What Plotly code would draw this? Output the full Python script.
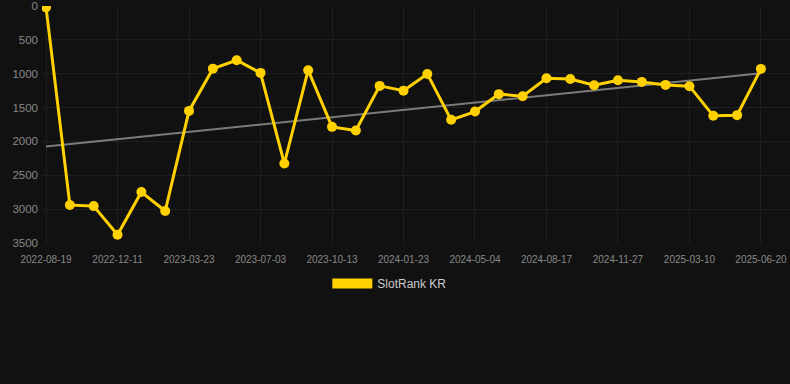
import numpy as np
import plotly.graph_objects as go

dates = [
    "2022-08-19", "2022-09-26", "2022-11-03", "2022-12-11", "2023-01-14", "2023-02-17",
    "2023-03-23", "2023-04-26", "2023-05-30", "2023-07-03", "2023-08-06", "2023-09-09",
    "2023-10-13", "2023-11-16", "2023-12-20", "2024-01-23", "2024-02-26", "2024-03-31",
    "2024-05-04", "2024-06-08", "2024-07-13", "2024-08-17", "2024-09-20", "2024-10-24",
    "2024-11-27", "2024-12-31", "2025-02-04", "2025-03-10", "2025-04-13", "2025-05-17",
    "2025-06-20",
]
ranks = [
    20, 2940, 2955, 3378, 2748, 3028, 1549, 925, 801, 988, 2326, 948, 1785, 1839, 1180,
    1250, 1003, 1681, 1559, 1302, 1332, 1066, 1077, 1170, 1096, 1121, 1165, 1184, 1622,
    1612, 929,
]
tick_labels = dates[::3]
y_ticks = [0, 500, 1000, 1500, 2000, 2500, 3000, 3500]
series_name = "SlotRank KR"

idx = np.arange(len(ranks))
slope, intercept = np.polyfit(idx, ranks, 1)
trend = slope * idx + intercept

gold = "#FFD100"
fig = go.Figure()
fig.add_trace(go.Scatter(
    x=dates, y=trend, mode="lines",
    line=dict(color="rgba(150,150,150,0.8)", width=2),
    showlegend=False, hoverinfo="skip",
))
fig.add_trace(go.Scatter(
    x=dates, y=ranks, mode="lines+markers",
    line=dict(color=gold, width=3),
    marker=dict(color=gold, size=10),
    showlegend=False, name=series_name,
))
fig.add_trace(go.Scatter(
    x=[None], y=[None], mode="lines",
    line=dict(color=gold, width=10),
    name=series_name, showlegend=True,
))

fig.update_layout(
    width=790, height=384,
    paper_bgcolor="#111111", plot_bgcolor="#111111",
    margin=dict(l=42, r=0, t=6, b=141),
    font=dict(family="Liberation Sans, Arial, sans-serif", color="#8a8a8a"),
    legend=dict(
        orientation="h", x=0.465, xanchor="center", y=-0.11, yanchor="top",
        font=dict(size=12, color="#cccccc"), itemwidth=40,
    ),
    xaxis=dict(
        type="category", categoryorder="array", categoryarray=dates,
        tickmode="array", tickvals=tick_labels, ticktext=tick_labels,
        range=[-0.17, 31.22],
        showgrid=True, gridcolor="#1f1f1f", gridwidth=1,
        zeroline=False, showline=False, ticks="",
        ticklabelstandoff=9,
        tickfont=dict(size=10, color="#888888"),
    ),
    yaxis=dict(
        autorange=False, range=[3500, 0],
        tickvals=y_ticks,
        showgrid=True, gridcolor="#1f1f1f", gridwidth=1,
        zeroline=False, showline=False, ticks="",
        ticklabelstandoff=3,
        tickfont=dict(size=11.5, color="#888888"),
    ),
)

fig.write_html(
    "out.html",
    config={"displayModeBar": False},
    post_script="document.body.style.margin='0';document.body.style.background='#111111';",
)
